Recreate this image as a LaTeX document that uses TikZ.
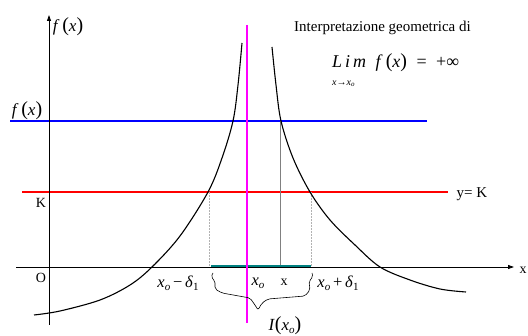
\documentclass[tikz,border=0pt]{standalone}
\usepackage{fontspec}
\setmainfont{Liberation Serif}
\usetikzlibrary{arrows.meta}
\newcommand{\xo}{\textit{x}\raisebox{-0.35ex}{\fontsize{11}{11}\selectfont\textit{o}}}
\newcommand{\dlt}{\textit{δ}\raisebox{-0.35ex}{\fontsize{11}{11}\selectfont 1}}
\newcommand{\bp}[1]{{\fontsize{20}{20}\selectfont #1}}
\begin{document}
\begin{tikzpicture}[x=1pt,y=-1pt,
  axis/.style={line width=0.8pt,-{Triangle[length=6pt,width=4pt]}},
  curve/.style={line width=1.1pt,smooth,tension=0.55},
  hline/.style={line width=2.6pt},
  guide/.style={line width=0.5pt},
  lbl/.style={inner sep=0pt,font=\fontsize{15}{18}\selectfont}]
\useasboundingbox (0,0) rectangle (528,336);
\definecolor{tealc}{RGB}{0,128,128}
\definecolor{magc}{RGB}{255,0,255}
\definecolor{bluec}{RGB}{0,0,255}
\definecolor{redc}{RGB}{255,0,0}
% horizontal lines
\draw[hline,bluec] (10,121) -- (427,121);
\draw[hline,redc] (22,192) -- (448,192);
% guides
\draw[guide,gray!60,densely dotted] (209,192) -- (209,267);
\draw[guide,gray!60,densely dotted] (311,192) -- (311,267);
\draw[guide,gray] (280,121) -- (280,267);
% axes
\draw[axis] (16,267) -- (514,267);
\draw[axis] (49,325) -- (49,15);
% curves
\draw[curve] plot coordinates {(34,315) (60,311) (100,300) (130,285) (152,267) (180,236) (208,192) (222,158) (233,121) (238,85) (242,43)};
\draw[curve] plot coordinates {(272,47) (276,85) (281,121) (293,158) (310,192) (330,220) (355,245) (380,267) (410,280) (440,289) (466,292)};
% interval
\draw[hline,tealc] (211,266) -- (311,266);
% asymptote
\draw[hline,magc] (247,25) -- (247,323);
% brace
\draw[line width=0.6pt,rounded corners=2pt] (213,273) -- (211,277) -- (215,281) -- (215,289) -- (222,293) -- (250,298) -- (255,305) -- (258,310) -- (262,303) -- (268,299) -- (305,296) -- (310,290) -- (309,281) -- (313,277) -- (312,273);
% labels
\node[lbl,font=\fontsize{17}{20}\selectfont] (fy) at (68,27) {\textit{f}\,\bp{(}\textit{x}\bp{)}};
\node[lbl,font=\fontsize{17}{20}\selectfont] (fb) at (27,111) {\textit{f}\,\bp{(}\textit{x}\bp{)}};
\node[lbl,font=\fontsize{14}{16}\selectfont] (K) at (41,203) {K};
\node[lbl,font=\fontsize{14}{16}\selectfont] (O) at (41,278) {O};
\node[lbl,font=\fontsize{16.5}{19}\selectfont] (xm) at (178,283) {\xo\,−\,\dlt};
\node[lbl,font=\fontsize{16.5}{19}\selectfont] (x0) at (258,283) {\xo};
\node[lbl,font=\fontsize{14}{16}\selectfont] (xx) at (284,282) {x};
\node[lbl,font=\fontsize{16.5}{19}\selectfont] (xp) at (338,283) {\xo\,+\,\dlt};
\node[lbl,font=\fontsize{17}{20}\selectfont] (I) at (285,326) {\textit{I}\bp{(}\xo\bp{)}};
\node[lbl] (yk) at (472,194) {y= K};
\node[lbl,font=\fontsize{14}{16}\selectfont] (xl) at (523,270) {x};
\node[lbl,anchor=west] (title) at (294,28) {Interpretazione geometrica di};
\node[lbl,anchor=west,font=\fontsize{18}{20}\selectfont] (lim) at (332,63) {\textit{L\,i\,m}\; \textit{f}\,\bp{(}\textit{x}\bp{)}\; =\; +∞};
\node[lbl,anchor=west,font=\fontsize{10}{11}\selectfont] (sub) at (332,84) {\textit{x}→\textit{x}\raisebox{-0.3ex}{\fontsize{7}{7}\selectfont\textit{o}}};
\end{tikzpicture}
\end{document}
